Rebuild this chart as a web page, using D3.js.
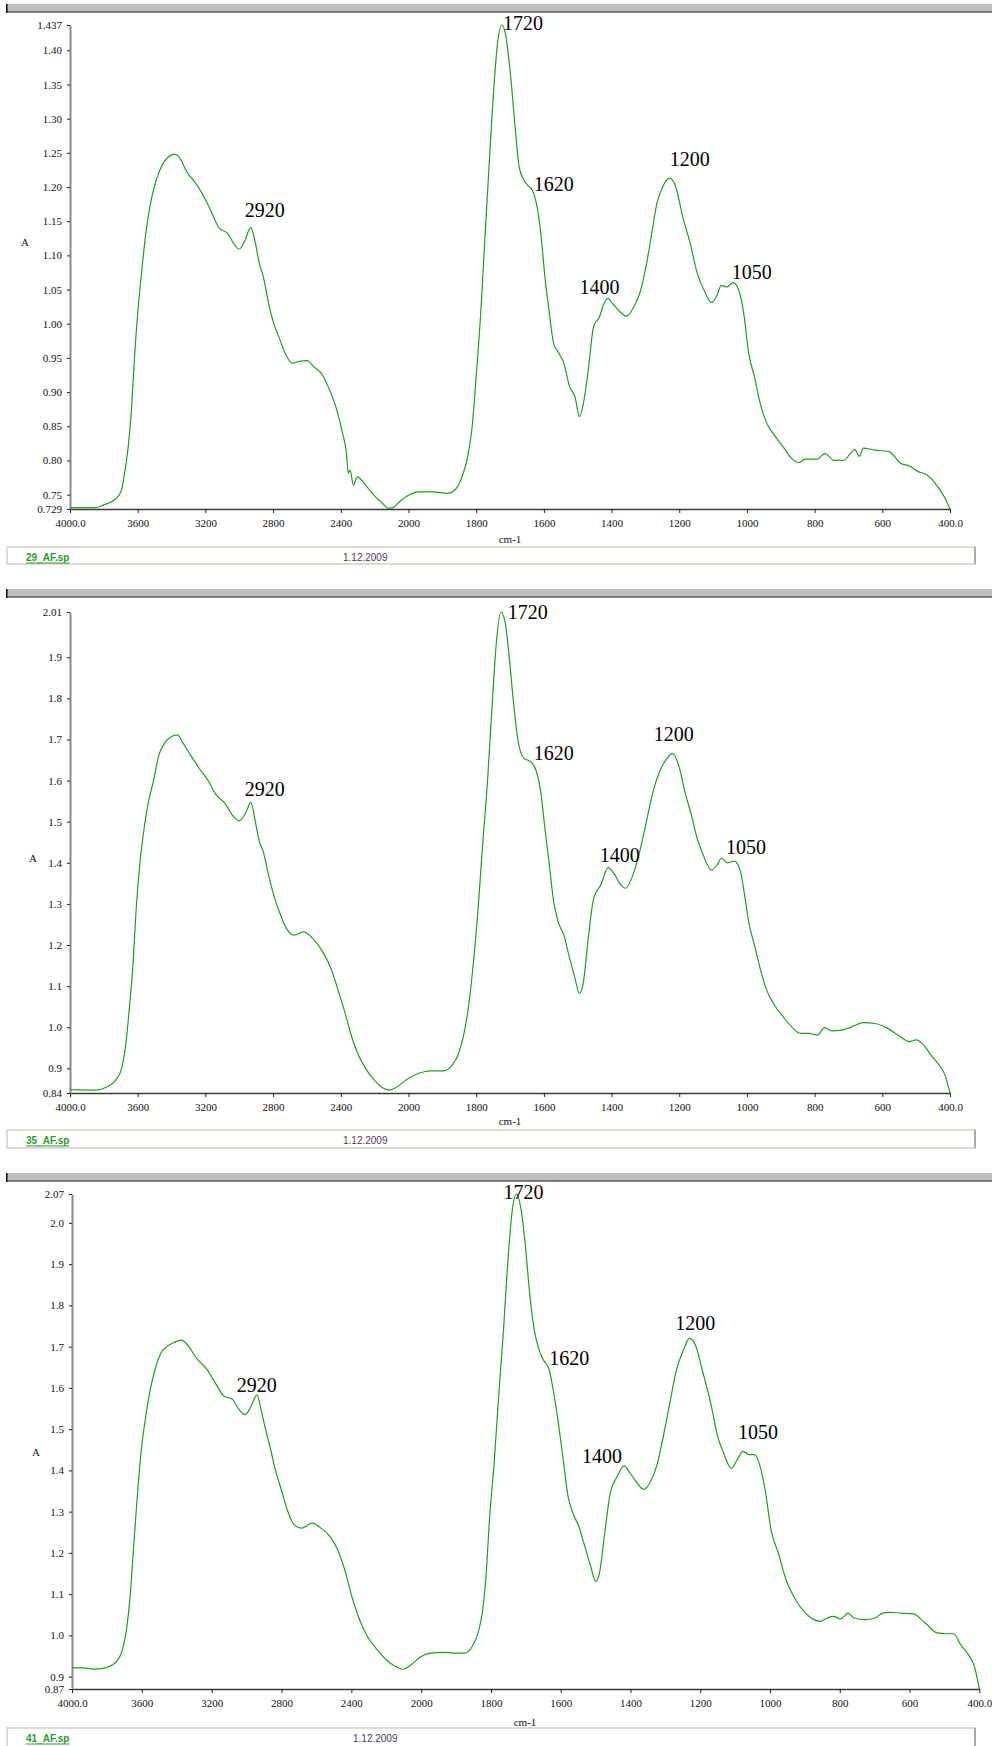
<!DOCTYPE html>
<html>
<head>
<meta charset="utf-8">
<script src="https://cdn.jsdelivr.net/npm/d3@7"></script>
<style>
  body { margin: 0; background: #fff; }
  svg { display: block; }
  .axis text { font-family: "Liberation Serif", "Times New Roman", serif; font-size: 11px; fill: #111; }
  .axis--y .domain { stroke: #8a8a8a; stroke-width: 2px; }
  .axis--x .domain { stroke: #3a3a3a; stroke-width: 1.5px; }
  .axis line { stroke: #222; }
  .peak { font-family: "Liberation Serif", "Times New Roman", serif; font-size: 20px; fill: #000; }
  .unit { font-family: "Liberation Serif", "Times New Roman", serif; font-size: 11px; fill: #111; }
  .spec { fill: none; stroke: #229c22; stroke-width: 1.2px; stroke-linejoin: round; }
  .fname { font-family: "Liberation Sans", Arial, sans-serif; font-size: 10px; font-weight: bold; fill: #2e9a2e; text-decoration: underline; }
  .fdate { font-family: "Liberation Sans", Arial, sans-serif; font-size: 10px; fill: #4b3a5e; }
</style>
</head>
<body>
<svg width="992" height="1746"></svg>
<script>
// wavenumber ticks, shared by all three spectra
var xTickValues = [4000, 3600, 3200, 2800, 2400, 2000, 1800, 1600, 1400, 1200, 1000, 800, 600, 400];
var xTickLabels = ["4000.0", "3600", "3200", "2800", "2400", "2000", "1800", "1600", "1400", "1200", "1000", "800", "600", "400.0"];

var peakNames = ["2920", "1720", "1620", "1400", "1200", "1050"];

// sample 29_AF  [cm-1, A]
var spectrum29 = [
  [4000, 0.731], [3850, 0.731], [3800, 0.735], [3729, 0.744], [3695, 0.757], [3678, 0.781],
  [3654, 0.825], [3637, 0.874], [3620, 0.947], [3600, 1.015], [3576, 1.078], [3553, 1.130],
  [3525, 1.175], [3502, 1.200], [3475, 1.221], [3441, 1.238], [3380, 1.248], [3356, 1.244],
  [3305, 1.220], [3271, 1.210], [3220, 1.191], [3169, 1.166], [3119, 1.140], [3068, 1.132],
  [3034, 1.118], [3000, 1.109], [2966, 1.122], [2932, 1.141], [2908, 1.122], [2881, 1.088],
  [2858, 1.069], [2831, 1.035], [2797, 1.001], [2763, 0.979], [2729, 0.957], [2685, 0.942],
  [2644, 0.945], [2600, 0.946], [2559, 0.937], [2508, 0.925], [2475, 0.908], [2424, 0.874],
  [2390, 0.840], [2366, 0.810], [2356, 0.781], [2346, 0.786], [2325, 0.764], [2302, 0.776],
  [2254, 0.764], [2203, 0.749], [2153, 0.737], [2119, 0.730], [2092, 0.731], [2051, 0.740],
  [2000, 0.749], [1969, 0.754], [1927, 0.754], [1885, 0.752], [1859, 0.759], [1842, 0.776],
  [1825, 0.806], [1812, 0.849], [1800, 0.923], [1786, 1.020], [1775, 1.118], [1761, 1.239],
  [1749, 1.337], [1737, 1.410], [1724, 1.437], [1714, 1.425], [1698, 1.361], [1685, 1.288],
  [1673, 1.229], [1659, 1.210], [1647, 1.202], [1634, 1.195], [1622, 1.176], [1608, 1.127],
  [1597, 1.069], [1585, 1.020], [1571, 0.971], [1558, 0.959], [1541, 0.942], [1524, 0.908],
  [1508, 0.893], [1495, 0.864], [1483, 0.884], [1469, 0.932], [1453, 0.996], [1436, 1.010],
  [1422, 1.030], [1410, 1.037], [1398, 1.030], [1376, 1.018], [1356, 1.011], [1334, 1.025],
  [1317, 1.044], [1300, 1.079], [1283, 1.127], [1266, 1.176], [1249, 1.200], [1229, 1.213],
  [1212, 1.203], [1190, 1.157], [1168, 1.118], [1147, 1.074], [1122, 1.044], [1105, 1.031],
  [1088, 1.042], [1076, 1.056], [1059, 1.054], [1041, 1.060], [1024, 1.049], [1008, 1.010],
  [995, 0.957], [978, 0.923], [961, 0.884], [941, 0.854], [919, 0.837], [893, 0.820],
  [868, 0.803], [846, 0.797], [829, 0.802], [792, 0.802], [770, 0.810], [741, 0.800],
  [715, 0.800], [681, 0.816], [668, 0.806], [656, 0.818], [622, 0.815], [580, 0.813],
  [546, 0.796], [520, 0.792], [495, 0.784], [469, 0.779], [444, 0.767], [417, 0.747],
  [400, 0.729]
];
var yTicks29 = [1.437, 1.40, 1.35, 1.30, 1.25, 1.20, 1.15, 1.10, 1.05, 1.00, 0.95, 0.90, 0.85, 0.80, 0.75, 0.729];
var yLabels29 = ["1.437", "1.40", "1.35", "1.30", "1.25", "1.20", "1.15", "1.10", "1.05", "1.00", "0.95", "0.90", "0.85", "0.80", "0.75", "0.729"];
var peaks29 = [[2967, 1.166], [1721, 1.440], [1630, 1.204], [1495, 1.054], [1228, 1.241], [1045, 1.076]];

// sample 35_AF
var spectrum35 = [
  [4000, 0.848], [3847, 0.847], [3780, 0.855], [3729, 0.872], [3695, 0.900], [3671, 0.957],
  [3651, 1.038], [3627, 1.159], [3610, 1.281], [3586, 1.403], [3559, 1.492], [3536, 1.549],
  [3508, 1.597], [3475, 1.662], [3441, 1.691], [3400, 1.707], [3366, 1.711], [3332, 1.691],
  [3288, 1.662], [3237, 1.630], [3186, 1.601], [3136, 1.565], [3085, 1.545], [3041, 1.516],
  [3000, 1.502], [2959, 1.524], [2932, 1.547], [2905, 1.500], [2881, 1.451], [2858, 1.427],
  [2831, 1.378], [2797, 1.322], [2763, 1.281], [2722, 1.241], [2678, 1.224], [2620, 1.232],
  [2566, 1.216], [2508, 1.184], [2458, 1.143], [2407, 1.078], [2366, 1.022], [2339, 0.981],
  [2305, 0.941], [2254, 0.900], [2203, 0.872], [2153, 0.853], [2112, 0.847], [2068, 0.855],
  [2000, 0.876], [1969, 0.888], [1936, 0.894], [1897, 0.894], [1871, 0.908], [1854, 0.932],
  [1837, 0.981], [1822, 1.054], [1808, 1.159], [1795, 1.281], [1781, 1.443], [1766, 1.605],
  [1754, 1.768], [1741, 1.930], [1727, 2.010], [1715, 1.987], [1703, 1.905], [1690, 1.792],
  [1676, 1.695], [1659, 1.654], [1639, 1.646], [1622, 1.622], [1608, 1.565], [1597, 1.484],
  [1585, 1.403], [1571, 1.305], [1558, 1.257], [1541, 1.224], [1524, 1.168], [1508, 1.119],
  [1495, 1.082], [1483, 1.111], [1469, 1.216], [1453, 1.313], [1432, 1.346], [1410, 1.388],
  [1393, 1.374], [1376, 1.350], [1359, 1.338], [1337, 1.370], [1317, 1.427], [1297, 1.500],
  [1280, 1.565], [1258, 1.622], [1236, 1.654], [1220, 1.666], [1202, 1.638], [1181, 1.565],
  [1164, 1.516], [1147, 1.459], [1131, 1.423], [1105, 1.382], [1088, 1.395], [1075, 1.411],
  [1058, 1.400], [1037, 1.404], [1020, 1.382], [1007, 1.322], [995, 1.257], [978, 1.200],
  [961, 1.143], [944, 1.095], [919, 1.054], [893, 1.026], [868, 1.001], [842, 0.985],
  [817, 0.985], [792, 0.981], [770, 0.999], [749, 0.991], [720, 0.993], [690, 1.001],
  [656, 1.011], [622, 1.009], [588, 0.999], [554, 0.981], [520, 0.965], [500, 0.969],
  [478, 0.957], [456, 0.932], [436, 0.912], [415, 0.884], [400, 0.840]
];
var yTicks35 = [2.01, 1.9, 1.8, 1.7, 1.6, 1.5, 1.4, 1.3, 1.2, 1.1, 1.0, 0.9, 0.84];
var yLabels35 = ["2.01", "1.9", "1.8", "1.7", "1.6", "1.5", "1.4", "1.3", "1.2", "1.1", "1.0", "0.9", "0.84"];
var peaks35 = [[2967, 1.579], [1707, 2.010], [1630, 1.667], [1435, 1.419], [1275, 1.713], [1062, 1.438]];

// sample 41_AF
var spectrum41 = [
  [4000, 0.921], [3932, 0.921], [3864, 0.918], [3796, 0.923], [3745, 0.937], [3711, 0.965],
  [3688, 1.014], [3667, 1.094], [3647, 1.216], [3626, 1.337], [3603, 1.450], [3576, 1.535],
  [3552, 1.595], [3525, 1.644], [3491, 1.684], [3457, 1.700], [3416, 1.710], [3372, 1.716],
  [3338, 1.704], [3287, 1.672], [3226, 1.644], [3178, 1.611], [3127, 1.579], [3083, 1.573],
  [3049, 1.551], [3009, 1.535], [2975, 1.555], [2941, 1.583], [2913, 1.539], [2886, 1.490],
  [2862, 1.450], [2835, 1.401], [2801, 1.353], [2767, 1.304], [2727, 1.268], [2686, 1.260],
  [2625, 1.272], [2574, 1.260], [2523, 1.240], [2479, 1.208], [2438, 1.159], [2397, 1.094],
  [2353, 1.038], [2309, 0.998], [2251, 0.965], [2200, 0.941], [2149, 0.925], [2105, 0.918],
  [2057, 0.929], [2003, 0.948], [1973, 0.957], [1939, 0.959], [1905, 0.957], [1876, 0.957],
  [1854, 0.973], [1837, 1.006], [1825, 1.054], [1815, 1.135], [1803, 1.296], [1791, 1.417],
  [1778, 1.579], [1764, 1.741], [1752, 1.902], [1740, 2.023], [1727, 2.070], [1715, 2.039],
  [1701, 1.942], [1690, 1.837], [1676, 1.741], [1662, 1.692], [1650, 1.668], [1633, 1.644],
  [1620, 1.587], [1608, 1.522], [1594, 1.434], [1579, 1.337], [1565, 1.296], [1548, 1.264],
  [1531, 1.216], [1514, 1.167], [1500, 1.131], [1489, 1.151], [1475, 1.240], [1458, 1.345],
  [1438, 1.385], [1418, 1.411], [1401, 1.393], [1384, 1.373], [1362, 1.354], [1340, 1.377],
  [1323, 1.417], [1306, 1.482], [1289, 1.555], [1268, 1.644], [1248, 1.692], [1231, 1.720],
  [1214, 1.704], [1192, 1.636], [1170, 1.563], [1150, 1.482], [1133, 1.442], [1111, 1.405],
  [1094, 1.426], [1077, 1.446], [1060, 1.438], [1044, 1.438], [1031, 1.417], [1014, 1.353],
  [997, 1.256], [976, 1.199], [954, 1.135], [929, 1.090], [903, 1.058], [878, 1.040],
  [856, 1.034], [836, 1.042], [819, 1.046], [797, 1.040], [776, 1.054], [759, 1.042],
  [728, 1.038], [699, 1.042], [677, 1.054], [657, 1.056], [623, 1.054], [589, 1.052],
  [555, 1.030], [521, 1.006], [496, 1.004], [474, 1.004], [453, 0.977], [428, 0.949],
  [414, 0.925], [400, 0.870]
];
var yTicks41 = [2.07, 2.0, 1.9, 1.8, 1.7, 1.6, 1.5, 1.4, 1.3, 1.2, 1.1, 1.0, 0.9, 0.87];
var yLabels41 = ["2.07", "2.0", "1.9", "1.8", "1.7", "1.6", "1.5", "1.4", "1.3", "1.2", "1.1", "1.0", "0.9", "0.87"];
var peaks41 = [[3057, 1.607], [1764, 2.076], [1633, 1.672], [1539, 1.435], [1272, 1.758], [1092, 1.493]];

// page layout of the three stacked spectrum windows
var panels = [
  { name: "29_AF.sp", spec: spectrum29, ticks: yTicks29, labels: yLabels29, peaks: peaks29,
    x0: 70, xMid: 408.5, x1: 950, yTop: 25, yBot: 509, bar: 4, aX: 25, aY: 242,
    unitX: 510, unitY: 539, boxTop: 547, boxBot: 564, boxRight: 975, captionY: 557, dateX: 343 },
  { name: "35_AF.sp", spec: spectrum35, ticks: yTicks35, labels: yLabels35, peaks: peaks35,
    x0: 70, xMid: 408.5, x1: 950, yTop: 612, yBot: 1093, bar: 589, aX: 33, aY: 858,
    unitX: 510, unitY: 1121, boxTop: 1130, boxBot: 1148, boxRight: 975, captionY: 1140, dateX: 343 },
  { name: "41_AF.sp", spec: spectrum41, ticks: yTicks41, labels: yLabels41, peaks: peaks41,
    x0: 72, xMid: 421.2, x1: 979.3, yTop: 1194, yBot: 1689, bar: 1173, aX: 36, aY: 1452,
    unitX: 525, unitY: 1722, boxTop: 1728, boxBot: 1752, boxRight: 975, captionY: 1738, dateX: 353 }
];

var svg = d3.select("svg");

panels.forEach(function(p) {
  var x = d3.scaleLinear().domain([4000, 2000, 400]).range([p.x0, p.xMid, p.x1]);
  var y = d3.scaleLinear()
      .domain([p.ticks[p.ticks.length - 1], p.ticks[0]])
      .range([p.yBot, p.yTop]);

  var g = svg.append("g");

  // window title bar
  g.append("rect").attr("x", 6).attr("y", p.bar).attr("width", 986).attr("height", 7)
      .attr("fill", "#c0c0c0");
  g.append("rect").attr("x", 6).attr("y", p.bar + 7).attr("width", 986).attr("height", 1.8)
      .attr("fill", "#6e6e6e");
  g.append("rect").attr("x", 6).attr("y", p.bar).attr("width", 1.5).attr("height", 8.8)
      .attr("fill", "#000");

  g.append("g")
      .attr("class", "axis axis--x")
      .attr("transform", "translate(0," + p.yBot + ")")
      .call(d3.axisBottom(x)
        .tickValues(xTickValues)
        .tickFormat(function(d, i) { return xTickLabels[i]; })
        .tickSizeInner(4).tickSizeOuter(0).tickPadding(6));

  g.append("g")
      .attr("class", "axis axis--y")
      .attr("transform", "translate(" + p.x0 + ",0)")
      .call(d3.axisLeft(y)
        .tickValues(p.ticks)
        .tickFormat(function(d, i) { return p.labels[i]; })
        .tickSizeInner(3).tickSizeOuter(0).tickPadding(5));

  g.append("text").attr("class", "unit")
      .attr("x", p.aX).attr("y", p.aY).attr("text-anchor", "middle")
      .attr("dominant-baseline", "central").text("A");

  g.append("text").attr("class", "unit")
      .attr("x", p.unitX).attr("y", p.unitY).attr("text-anchor", "middle")
      .attr("dominant-baseline", "central").text("cm-1");

  var line = d3.line()
      .x(function(d) { return x(d[0]); })
      .y(function(d) { return y(d[1]); })
      .curve(d3.curveMonotoneX);

  g.append("path").attr("class", "spec").attr("d", line(p.spec));

  g.selectAll(".peak").data(p.peaks).enter().append("text")
      .attr("class", "peak")
      .attr("x", function(d) { return x(d[0]); })
      .attr("y", function(d) { return y(d[1]); })
      .attr("dominant-baseline", "central")
      .text(function(d, i) { return peakNames[i]; });

  // file caption strip
  g.append("rect").attr("x", 7).attr("y", p.boxTop)
      .attr("width", p.boxRight - 7).attr("height", p.boxBot - p.boxTop)
      .attr("fill", "#fff").attr("stroke", "#dedbd3").attr("stroke-width", 2);
  g.append("line").attr("x1", p.boxRight).attr("x2", p.boxRight)
      .attr("y1", p.boxTop).attr("y2", p.boxBot)
      .attr("stroke", "#9a9a9a").attr("stroke-width", 1.5);
  g.append("text").attr("class", "fname")
      .attr("x", 26).attr("y", p.captionY).attr("dominant-baseline", "central")
      .text(p.name);
  g.append("text").attr("class", "fdate")
      .attr("x", p.dateX).attr("y", p.captionY).attr("dominant-baseline", "central")
      .text("1.12.2009");
});
</script>
</body>
</html>
